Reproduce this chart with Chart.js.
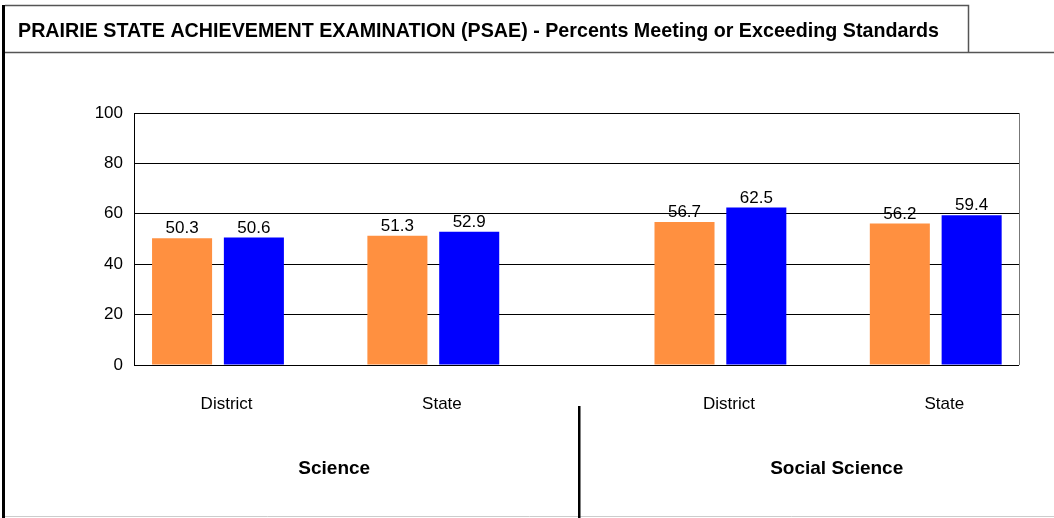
<!DOCTYPE html>
<html>
<head>
<meta charset="utf-8">
<script src="https://cdn.jsdelivr.net/npm/chart.js@4.4.1/dist/chart.umd.min.js"></script>
<style>
	html, body { margin: 0; padding: 0; background: #fff; }
	#wrap { width: 1054px; height: 518px; }
</style>
</head>
<body>
<div id="wrap"><canvas id="draw" width="1054" height="518"></canvas></div>
<script>
const chartTitle = "PRAIRIE STATE ACHIEVEMENT EXAMINATION (PSAE) - Percents Meeting or Exceeding Standards";
const subjects = ["Science", "Social Science"];
const groups = ["District", "State", "District", "State"];
const groupPos = [1, 4, 8, 11]; // where each group sits on the x axis (wider gap between subjects)
const seriesOrange = [50.3, 51.3, 56.7, 56.2];
const seriesBlue = [50.6, 52.9, 62.5, 59.4];
const yMin = 0, yMax = 100, yStep = 20;

const labelShift = 0.12;
const fontFamily = "'Liberation Sans', Arial, sans-serif";

const toPoints = (values) => values.map((v, i) => ({ x: groupPos[i], y: v }));

// frame, title box, divider, value labels
const framePlugin = {
	id: "frame",
	beforeDraw(chart) {
		const ctx = chart.ctx;
		ctx.save();
		ctx.fillStyle = "#fff";
		ctx.fillRect(0, 0, chart.width, chart.height);
		ctx.restore();
	},
	afterDraw(chart) {
		const ctx = chart.ctx;
		const area = chart.chartArea;
		const xs = chart.scales.x;
		ctx.save();

		// outer frame
		ctx.fillStyle = "#000";
		ctx.fillRect(2, 5, 3, 513);
		ctx.strokeStyle = "#555";
		ctx.lineWidth = 1.5;
		ctx.beginPath();
		ctx.moveTo(5, 5.5); ctx.lineTo(968.5, 5.5); ctx.lineTo(968.5, 52.5);
		ctx.moveTo(5, 52.5); ctx.lineTo(1054, 52.5);
		ctx.stroke();
		ctx.strokeStyle = "#ccc";
		ctx.lineWidth = 1;
		ctx.beginPath();
		ctx.moveTo(5, 516.5); ctx.lineTo(1054, 516.5);
		ctx.stroke();

		// title
		ctx.fillStyle = "#000";
		ctx.font = "bold 19.7px " + fontFamily;
		ctx.textAlign = "left";
		ctx.textBaseline = "middle";
		ctx.fillText(chartTitle, 18, 32);

		// right edge of plot
		ctx.strokeStyle = "#777";
		ctx.beginPath();
		ctx.moveTo(Math.round(area.right) + 0.5, area.top);
		ctx.lineTo(Math.round(area.right) + 0.5, area.bottom);
		ctx.stroke();

		// divider between subjects
		const midX = xs.getPixelForValue((groupPos[1] + groupPos[2]) / 2);
		ctx.fillStyle = "#000";
		ctx.fillRect(Math.round(midX) + 1, 406, 2.5, 112);

		// value labels
		ctx.font = "17px " + fontFamily;
		ctx.textAlign = "center";
		ctx.textBaseline = "bottom";
		chart.data.datasets.forEach((ds, di) => {
			const meta = chart.getDatasetMeta(di);
			meta.data.forEach((bar, i) => {
				ctx.fillText(ds.data[i].y.toFixed(1), bar.x, bar.y - 1);
			});
		});
		ctx.restore();
	},
};

const config = {
	type: "bar",
	data: {
		datasets: [
			{
				label: "Series 1",
				data: toPoints(seriesOrange),
				backgroundColor: "#FF9040",
				categoryPercentage: 0.667,
				barPercentage: 0.836,
			},
			{
				label: "Series 2",
				data: toPoints(seriesBlue),
				backgroundColor: "#0000FF",
				categoryPercentage: 0.667,
				barPercentage: 0.836,
			},
		],
	},
	options: {
		responsive: false,
		animation: false,
		devicePixelRatio: 1,
		layout: {
			padding: { left: 0, top: 113, right: 35, bottom: 13 },
		},
		plugins: {
			legend: { display: false },
			tooltip: { enabled: false },
			title: { display: false },
		},
		scales: {
			x: {
				type: "linear",
				position: "bottom",
				min: -0.17,
				max: 12.16,
				offset: false,
				weight: 0,
				grid: { display: false },
				border: { display: false },
				afterBuildTicks: (scale) => {
					scale.ticks = groupPos.map((p) => ({ value: p + labelShift }));
				},
				afterFit: (scale) => {
					scale.height = 60;
				},
				ticks: {
					autoSkip: false,
					maxRotation: 0,
					padding: 21,
					color: "#000",
					font: { family: fontFamily, size: 17 },
					callback: (value, index) => groups[index],
				},
			},
			x2: {
				type: "linear",
				axis: "x",
				position: "bottom",
				min: -0.17,
				max: 12.16,
				offset: false,
				weight: 1,
				grid: { display: false },
				border: { display: false },
				afterBuildTicks: (scale) => {
					scale.ticks = subjects.map((s, i) => ({
						value: (groupPos[i * 2] + groupPos[i * 2 + 1]) / 2 + labelShift,
					}));
				},
				afterFit: (scale) => {
					scale.height = 80;
				},
				ticks: {
					autoSkip: false,
					maxRotation: 0,
					padding: 24,
					color: "#000",
					font: { family: fontFamily, size: 19, weight: "bold" },
					callback: (value, index) => subjects[index],
				},
			},
			y: {
				min: yMin,
				max: yMax,
				afterFit: (scale) => {
					scale.width = 134;
				},
				ticks: {
					stepSize: yStep,
					padding: 11,
					color: "#000",
					font: { family: fontFamily, size: 17 },
				},
				grid: { color: "#000", lineWidth: 1, drawTicks: false },
				border: { color: "#000", width: 1 },
			},
		},
	},
	plugins: [framePlugin],
};

let myChart = new Chart(document.getElementById("draw").getContext("2d"), config);
</script>
</body>
</html>
